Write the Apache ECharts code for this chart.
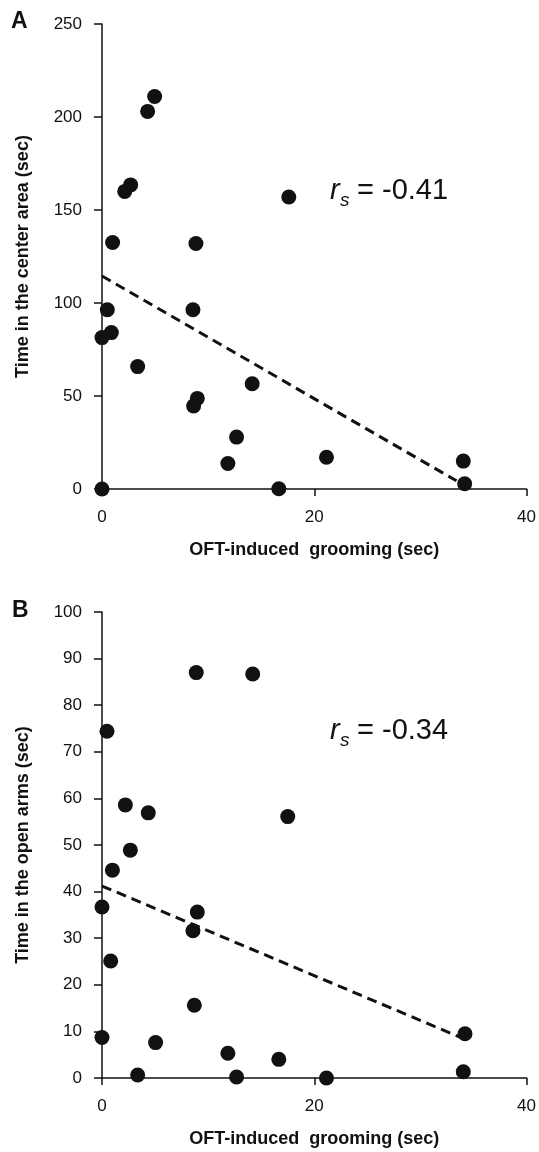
<!DOCTYPE html>
<html>
<head>
<meta charset="utf-8">
<script src="https://cdn.jsdelivr.net/npm/echarts@6/dist/echarts.min.js"></script>
<style>
  html, body { margin: 0; padding: 0; background: #fff; }
  #main { width: 539px; height: 1152px; }
</style>
</head>
<body>
<div id="main"></div>
<script>
// 数据
var groomA = [4.96, 4.3, 2.7, 2.14, 1.0, 8.85, 17.6, 0.5, 8.57, 0, 0.88, 3.36, 14.15, 8.98, 8.63, 12.68, 11.86, 21.15, 34.04, 34.17, 0, 16.66];
var centerTime = [211, 203, 163.5, 160, 132.5, 132, 157, 96.4, 96.4, 81.4, 84.1, 65.8, 56.6, 48.7, 44.6, 27.9, 13.7, 17.1, 15.0, 2.8, 0, 0.1];

var groomB = [8.88, 14.2, 0.47, 2.2, 4.36, 17.5, 2.67, 0.98, 0, 8.98, 8.57, 0.82, 8.7, 0, 5.05, 11.86, 16.66, 3.36, 12.68, 21.15, 34.2, 34.04];
var openArms = [87.0, 86.7, 74.4, 58.6, 56.9, 56.1, 48.9, 44.6, 36.7, 35.6, 31.6, 25.1, 15.6, 8.7, 7.6, 5.3, 4.0, 0.64, 0.2, 0, 9.5, 1.35];

// 回归虚线两端
var fitA = [[0, 114.5], [33.4, 4.4]];
var fitB = [[0, 41.2], [33.9, 8.6]];

var xTicks = [0, 20, 40];
var rsA = '= -0.41';
var rsB = '= -0.34';

var FONT = '"Liberation Sans", Arial, Helvetica, sans-serif';
var INK = '#111';

function pairs(xs, ys) {
    var out = [];
    for (var i = 0; i < xs.length; i++) {
        out.push([xs[i], ys[i]]);
    }
    return out;
}

function xAxisFor(idx, name) {
    return {
        type: 'value',
        gridIndex: idx,
        min: xTicks[0],
        max: xTicks[xTicks.length - 1],
        interval: 20,
        name: name,
        nameLocation: 'middle',
        nameGap: 52,
        nameTextStyle: { color: INK, fontFamily: FONT, fontWeight: 'bold', fontSize: 18 },
        axisLine: { lineStyle: { color: INK, width: 1.5 } },
        axisTick: { show: true, length: 7, lineStyle: { color: INK, width: 1.5 } },
        axisLabel: { color: INK, fontFamily: FONT, fontSize: 17, margin: 20 },
        splitLine: { show: false }
    };
}

function yAxisFor(idx, max, step, name) {
    return {
        type: 'value',
        gridIndex: idx,
        min: 0,
        max: max,
        interval: step,
        name: name,
        nameLocation: 'middle',
        nameGap: 70,
        nameTextStyle: { color: INK, fontFamily: FONT, fontWeight: 'bold', fontSize: 18 },
        axisLine: { show: true, lineStyle: { color: INK, width: 1.5 } },
        axisTick: { show: true, length: 8, lineStyle: { color: INK, width: 1.5 } },
        axisLabel: { color: INK, fontFamily: FONT, fontSize: 17, margin: 20 },
        splitLine: { show: false }
    };
}

function rsLabel(y, rest) {
    return [
        { type: 'text', left: 330, top: y - 17, style: { text: 'r', font: 'italic 29px ' + FONT, fill: INK } },
        { type: 'text', left: 340, top: y - 2, style: { text: 's', font: 'italic 19px ' + FONT, fill: INK } },
        { type: 'text', left: 357, top: y - 17, style: { text: rest, font: '29px ' + FONT, fill: INK } }
    ];
}

var myChart = echarts.init(document.getElementById('main'));

option = {
    backgroundColor: '#fff',
    animation: false,
    grid: [
        { left: 102, right: 12, top: 24, height: 465 },
        { left: 102, right: 12, top: 612, height: 466 }
    ],
    xAxis: [
        xAxisFor(0, 'OFT-induced  grooming (sec)'),
        xAxisFor(1, 'OFT-induced  grooming (sec)')
    ],
    yAxis: [
        yAxisFor(0, 250, 50, 'Time in the center area (sec)'),
        yAxisFor(1, 100, 10, 'Time in the open arms (sec)')
    ],
    graphic: [
        { type: 'text', left: 11, top: 10, style: { text: 'A', font: 'bold 23px ' + FONT, fill: INK } },
        { type: 'text', left: 12, top: 599, style: { text: 'B', font: 'bold 23px ' + FONT, fill: INK } }
    ].concat(rsLabel(193, rsA), rsLabel(733, rsB)),
    series: [
        {
            type: 'scatter',
            xAxisIndex: 0, yAxisIndex: 0,
            symbolSize: 15,
            clip: false,
            itemStyle: { color: INK, opacity: 1 },
            data: pairs(groomA, centerTime)
        },
        {
            type: 'line',
            xAxisIndex: 0, yAxisIndex: 0,
            symbol: 'none',
            lineStyle: { color: INK, width: 3, type: [10, 6] },
            data: fitA
        },
        {
            type: 'scatter',
            xAxisIndex: 1, yAxisIndex: 1,
            symbolSize: 15,
            clip: false,
            itemStyle: { color: INK, opacity: 1 },
            data: pairs(groomB, openArms)
        },
        {
            type: 'line',
            xAxisIndex: 1, yAxisIndex: 1,
            symbol: 'none',
            lineStyle: { color: INK, width: 3, type: [10, 6] },
            data: fitB
        }
    ]
};

myChart.setOption(option);
</script>
</body>
</html>
